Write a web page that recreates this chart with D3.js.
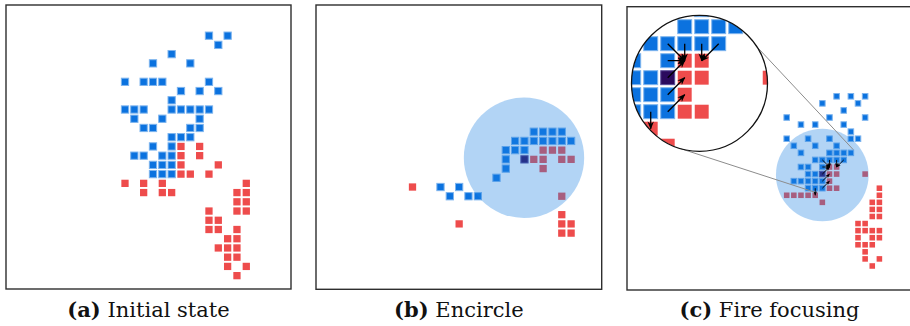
<!DOCTYPE html>
<html><head><meta charset="utf-8">
<script src="https://cdn.jsdelivr.net/npm/d3@7"></script>
<style>
body{margin:0;background:#fff}
svg{display:block}
.caption{font-family:"DejaVu Serif",serif;font-size:21px;letter-spacing:0px;fill:#111}
</style>
</head><body>
<svg id="fig" width="910" height="326"></svg>
<script>
// Unit positions are [column, row] on each panel's map grid.
const initialBlue = [[9,0],[11,0],[10,1],[5,2],[3,3],[7,3],[0,5],[2,5],[3,5],[4,5],[9,5],[6,6],[8,6],[10,6],[5,7],
  [0,8],[1,8],[2,8],[5,8],[6,8],[7,8],[8,8],[9,8],[1,9],[4,9],[8,9],[2,10],[3,10],[7,10],[8,10],[5,11],[6,11],[7,11],
  [3,12],[5,12],[1,13],[2,13],[4,13],[5,13],[3,14],[4,14],[5,14],[3,15],[4,15],[5,15]];
const initialRed = [[6,12],[8,12],[6,13],[8,13],[6,14],[10,14],[6,15],[7,15],[9,15],[0,16],[2,16],[4,16],[13,16],
  [2,17],[4,17],[5,17],[12,17],[13,17],[12,18],[13,18],[9,19],[12,19],[13,19],[9,20],[10,20],[9,21],[10,21],[12,21],
  [11,22],[12,22],[10,23],[11,23],[12,23],[11,24],[12,24],[11,25],[13,25],[12,26]];

const encircleBlue = [[13,0],[14,0],[15,0],[16,0],[11,1],[12,1],[13,1],[14,1],[15,1],[16,1],[17,1],[10,2],[11,2],[12,2],
  [10,3],[10,4],[9,5],[3,6],[5,6],[4,7],[6,7],[7,7]];
const encircleRed = [[14,2],[15,2],[16,2],[13,3],[14,3],[16,3],[17,3],[14,4],[0,6],[16,7],[16,9],[5,10],[16,10],[17,10],
  [16,11],[17,11]];
const encircleLeader = [[12,3]];

const focusBlue = [[7,0],[9,0],[11,0],[5,1],[10,1],[8,2],[0,3],[6,3],[11,3],[2,4],[4,4],[8,4],[9,5],
  [0,6],[3,6],[6,6],[9,6],[10,6],[1,7],[4,7],[7,7],[2,8],[6,8],[7,8],[8,8],[9,8],[4,9],[5,9],[6,9],[7,9],[8,9],
  [2,10],[3,10],[5,10],[3,11],[4,11],[1,12],[2,12],[3,12],[4,12],[5,12],[3,13],[4,13],[5,13]];
const focusRed = [[6,10],[7,10],[6,11],[7,11],[11,11],[6,12],[6,13],[7,13],[0,14],[1,14],[2,14],[3,14],[4,14],[5,15],
  [13,13],[13,14],[12,15],[13,15],[12,16],[13,16],[12,17],[13,17],[10,18],[11,18],[10,19],[11,19],[12,19],[13,19],
  [10,20],[12,20],[13,20],[10,21],[11,21],[12,21],[11,22],[11,23],[13,23],[12,24]];
const focusLeader = [[5,11]];
// Focused fire orders: [fromCol, fromRow, toCol, toRow]
const focusArrows = [[5,9,6,10],[6,9,6,10],[5,10,6,10],[5,11,6,10],[7,9,7,10],[8,9,7,10],[5,12,6,11],[5,13,6,12],[4,13,4,14]];

const captionTags = ["(a)", "(b)", "(c)"];
const captionTexts = ["Initial state", "Encircle", "Fire focusing"];

const COLORS = {blue: "#0b72df", blueEdge: "#7db4ee", red: "#ee4c4c", leader: "#2b0a5e",
  zone: "rgb(30,130,225)", frame: "#2e2e2e"};

// Panel geometry: frame box, grid origin (centre of cell 0,0) and cell pitch
const panels = [
  {frame: [6, 5, 285, 284], origin: [125, 35.67], pitch: [9.33, 9.23],
   blue: initialBlue, red: initialRed, leader: []},
  {frame: [316, 5, 285.7, 284.3], origin: [412.5, 131.7], pitch: [9.33, 9.22],
   blue: encircleBlue, red: encircleRed, leader: encircleLeader, zone: [11.95, 2.83, 6.45]},
  {frame: [627, 6.7, 285, 283.3], origin: [786.7, 96.3], pitch: [7.13, 7.07],
   blue: focusBlue, red: focusRed, leader: focusLeader, zone: [4.99, 11.13, 6.5], arrows: focusArrows,
   inset: {cx: 699.5, cy: 83.3, r: 68, pitch: 17, focus: [6.87, 11.33],
     connectors: [[-32.6, 9.34, 7.55], [106.3, 3.83, 13.53]]}}
];

const svg = d3.select("#fig");
const defs = svg.append("defs");

function addMarker(id, size) {
  defs.append("marker").attr("id", id)
    .attr("viewBox", "0 0 10 10").attr("refX", 9).attr("refY", 5)
    .attr("markerUnits", "userSpaceOnUse")
    .attr("markerWidth", size).attr("markerHeight", size)
    .attr("orient", "auto")
    .append("path").attr("d", "M0,1 L10,5 L0,9 L3,5 z").attr("fill", "#000");
}
addMarker("headSmall", 4.5);
addMarker("headBig", 8);

function drawUnits(g, x, y, size, cfg) {
  const cell = (sel, data, fill, edge) => {
    sel.selectAll(null).data(data).enter().append("rect")
      .attr("x", d => x(d[0]) - size / 2)
      .attr("y", d => y(d[1]) - size / 2)
      .attr("width", size).attr("height", size)
      .attr("fill", fill)
      .attr("stroke", edge || "none").attr("stroke-width", edge ? 1 : 0);
  };
  cell(g, cfg.red, COLORS.red);
  cell(g, cfg.blue, COLORS.blue, COLORS.blueEdge);
  cell(g, cfg.leader, COLORS.leader, "#5b4d9a");
}

function drawArrows(g, x, y, data, width, marker) {
  g.selectAll(null).data(data).enter().append("line")
    .attr("x1", d => x(d[0])).attr("y1", d => y(d[1]))
    .attr("x2", d => x(d[2])).attr("y2", d => y(d[3]))
    .attr("stroke", "#000").attr("stroke-width", width)
    .attr("marker-end", `url(#${marker})`);
}

panels.forEach((p, i) => {
  const g = svg.append("g");
  const [fx, fy, fw, fh] = p.frame;
  const x = d3.scaleLinear().domain([0, 1]).range([p.origin[0], p.origin[0] + p.pitch[0]]);
  const y = d3.scaleLinear().domain([0, 1]).range([p.origin[1], p.origin[1] + p.pitch[1]]);
  const size = p.pitch[0] * 0.78;

  drawUnits(g, x, y, size, p);

  if (p.zone) {
    g.append("circle")
      .attr("cx", x(p.zone[0])).attr("cy", y(p.zone[1]))
      .attr("r", x(p.zone[2]) - x(0))
      .attr("fill", COLORS.zone).attr("fill-opacity", 0.34);
  }
  if (p.arrows) drawArrows(g, x, y, p.arrows, 0.9, "headSmall");

  if (p.inset) {
    const s = p.inset;
    const xi = d3.scaleLinear().domain([s.focus[0], s.focus[0] + 1]).range([s.cx, s.cx + s.pitch]);
    const yi = d3.scaleLinear().domain([s.focus[1], s.focus[1] + 1]).range([s.cy, s.cy + s.pitch]);

    // connector lines from the magnifier to the magnified spot
    g.selectAll(null).data(s.connectors).enter().append("line")
      .attr("x1", d => s.cx + s.r * Math.cos(d[0] * Math.PI / 180))
      .attr("y1", d => s.cy + s.r * Math.sin(d[0] * Math.PI / 180))
      .attr("x2", d => x(d[1])).attr("y2", d => y(d[2]))
      .attr("stroke", "#8c8c8c").attr("stroke-width", 1);

    defs.append("clipPath").attr("id", "lens")
      .append("circle").attr("cx", s.cx).attr("cy", s.cy).attr("r", s.r);
    const lens = g.append("g").attr("clip-path", "url(#lens)");
    lens.append("circle").attr("cx", s.cx).attr("cy", s.cy).attr("r", s.r).attr("fill", "#fff");
    drawUnits(lens, xi, yi, s.pitch * 0.82, p);
    drawArrows(lens, xi, yi, p.arrows, 1.3, "headBig");
    g.append("circle").attr("cx", s.cx).attr("cy", s.cy).attr("r", s.r)
      .attr("fill", "none").attr("stroke", "#111").attr("stroke-width", 1.3);
  }

  g.append("rect").attr("x", fx).attr("y", fy).attr("width", fw).attr("height", fh)
    .attr("fill", "none").attr("stroke", COLORS.frame).attr("stroke-width", 1.4);

  const t = svg.append("text").attr("class", "caption")
    .attr("x", fx + fw / 2).attr("y", 316.5)
    .attr("text-anchor", "middle");
  t.append("tspan").attr("font-weight", "bold").style("font-weight", "bold").text(captionTags[i]);
  t.append("tspan").text(" " + captionTexts[i]);
});
</script>
</body></html>
